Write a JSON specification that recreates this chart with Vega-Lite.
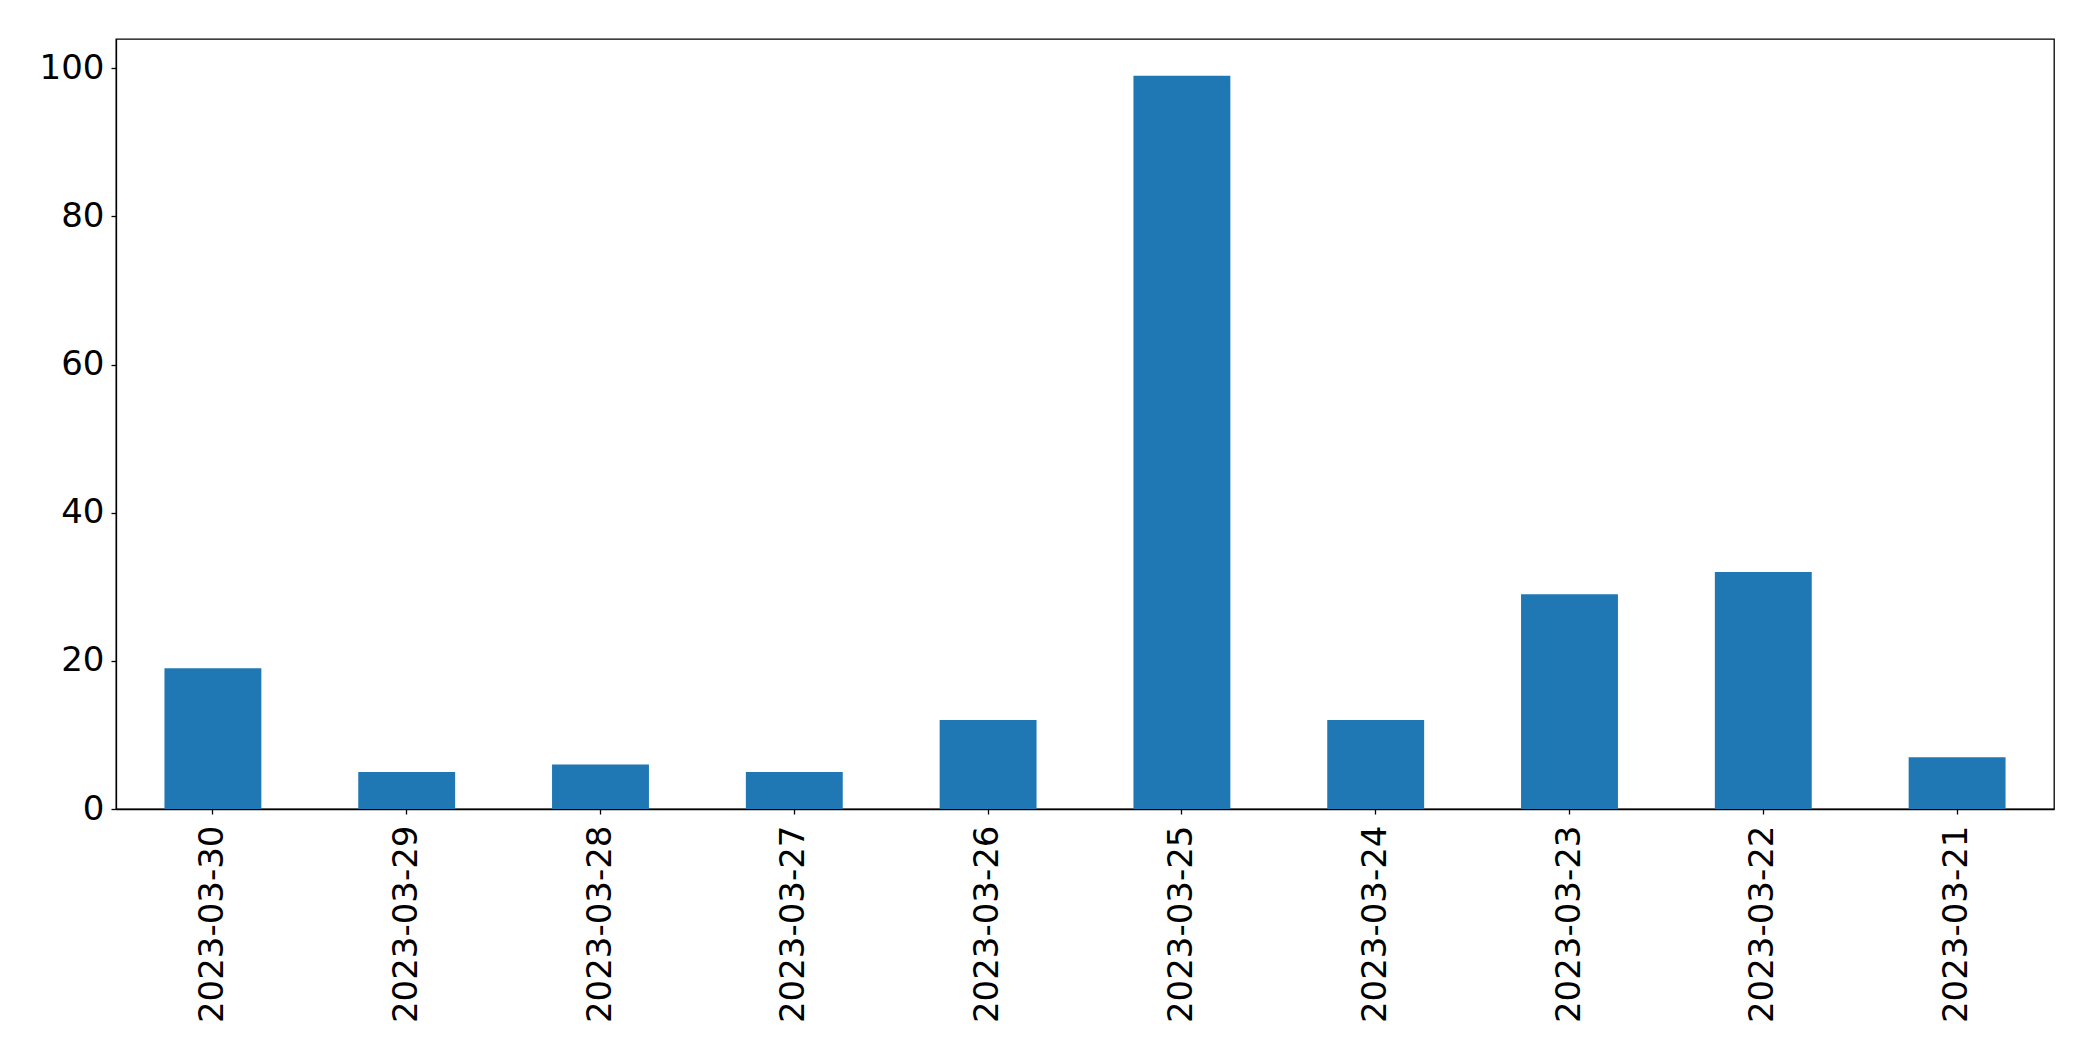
{
  "$schema": "https://vega.github.io/schema/vega-lite/v6.json",
  "width": 1938,
  "height": 770,
  "autosize": {"type": "none"},
  "padding": {"left": 116, "top": 39, "right": 39, "bottom": 252},
  "background": "white",
  "config": {
    "view": {"stroke": "black", "strokeWidth": 1.3},
    "font": "DejaVu Sans",
    "axis": {
      "labelFont": "DejaVu Sans",
      "labelFontSize": 34,
      "labelLimit": 0,
      "labelColor": "black",
      "domainColor": "black",
      "tickColor": "black",
      "tickSize": 5,
      "tickWidth": 1.3,
      "domainWidth": 1.3,
      "grid": false,
      "title": null
    }
  },
  "data": {
    "values": [
      {"date": "2023-03-30", "count": 19},
      {"date": "2023-03-29", "count": 5},
      {"date": "2023-03-28", "count": 6},
      {"date": "2023-03-27", "count": 5},
      {"date": "2023-03-26", "count": 12},
      {"date": "2023-03-25", "count": 99},
      {"date": "2023-03-24", "count": 12},
      {"date": "2023-03-23", "count": 29},
      {"date": "2023-03-22", "count": 32},
      {"date": "2023-03-21", "count": 7}
    ]
  },
  "mark": {"type": "bar", "color": "#1f77b4"},
  "encoding": {
    "x": {
      "field": "date",
      "type": "nominal",
      "sort": null,
      "scale": {"paddingInner": 0.5, "paddingOuter": 0.25},
      "axis": {"labelAngle": -90, "labelPadding": 11, "labelAlign": "right", "labelBaseline": "middle", "labelFontSize": 34, "labelLimit": 0}
    },
    "y": {
      "field": "count",
      "type": "quantitative",
      "scale": {"domain": [0, 103.95], "nice": false, "zero": true},
      "axis": {"values": [0, 20, 40, 60, 80, 100], "labelPadding": 7, "labelFontSize": 34}
    }
  }
}
